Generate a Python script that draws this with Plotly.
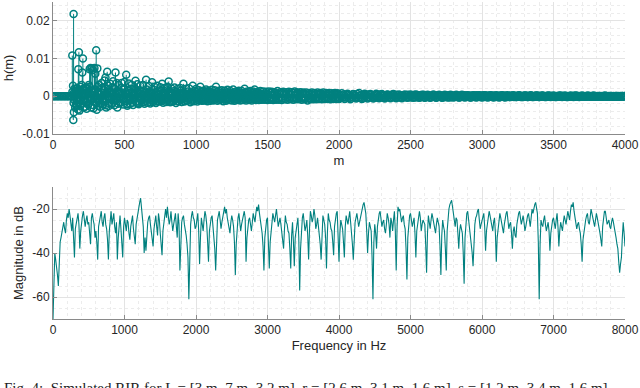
import numpy as np
import plotly.graph_objects as go
from plotly.subplots import make_subplots

teal = "#00807f"

# ---- impulse response h(m): strongest samples ----
m_early = [0, 10, 20, 30, 40, 50, 60, 70, 80, 90, 100, 110, 120, 130,
           135, 140, 142, 144, 146, 150, 155, 160, 165, 170, 175, 177, 181, 185,
           190, 195, 200, 205, 209, 213, 220, 225, 230, 235, 240, 245, 250, 256,
           262, 268, 272, 278, 284, 290, 296, 302, 306, 310, 315, 320, 330, 340,
           350, 360, 367, 372, 379, 385, 390, 400, 410, 420, 430, 437, 445, 450,
           460, 470, 480, 490, 500, 512, 520, 530, 540, 550, 560, 577, 585, 590,
           600, 610, 620, 630, 640, 651, 660, 670, 680, 693, 700, 710, 720, 730,
           740, 750, 763, 770, 780, 790, 800, 809, 820, 830, 840, 850, 860, 870,
           880, 890, 900, 912, 920, 930, 940, 950, 960, 977, 985, 1000]
h_early = [0, 0, 0, 0, 0, 0, 0, 0, 0, 0, 0, 0, 0, 0,
           0.0108, 0.0028, -0.0063, 0.0218, -0.0042, 0.0020, -0.0030, 0.0015, -0.0025, 0.0022, -0.0035, 0.0072, 0.0117, -0.0038,
           0.0025, -0.0020, 0.0030, 0.0063, 0.0100, -0.0030, 0.0018, -0.0028, 0.0024, -0.0033, 0.0020, -0.0022, 0.0030, 0.0072,
           0.0075, -0.0030, 0.0074, 0.0070, -0.0032, 0.0075, 0.0060, 0.0122, -0.0036, 0.0074, -0.0025, 0.0030, -0.0028, 0.0035,
           -0.0022, 0.0042, 0.0050, -0.0030, 0.0065, 0.0028, -0.0026, 0.0033, -0.0020, 0.0040, -0.0024, 0.0063, 0.0035, -0.0030,
           0.0030, -0.0018, 0.0035, -0.0022, 0.0038, 0.0057, -0.0025, 0.0034, -0.0020, 0.0030, -0.0023, 0.0041, -0.0018, 0.0032,
           -0.0021, 0.0028, -0.0016, 0.0030, -0.0020, 0.0044, -0.0017, 0.0027, -0.0019, 0.0037, -0.0015, 0.0025, -0.0018, 0.0028,
           -0.0014, 0.0024, 0.0033, -0.0017, 0.0022, -0.0015, 0.0025, 0.0039, -0.0016, 0.0020, -0.0014, 0.0023, -0.0018, 0.0019,
           -0.0013, 0.0022, -0.0015, 0.0033, -0.0014, 0.0020, -0.0012, 0.0021, -0.0016, 0.0028, -0.0013, 0.0019]

m_mid = list(range(1010, 2000, 10))
h_mid = [-0.0014, 0.0016, 0.0025, -0.0012, 0.0015, -0.0011, 0.0018, -0.0013, 0.0014, -0.0012,
         0.0017, -0.0011, 0.0016, 0.0025, -0.0012, 0.0015, -0.0010, 0.0016, -0.0013, 0.0015,
         -0.0012, 0.0017, -0.0010, 0.0014, -0.0011, 0.0018, -0.0012, 0.0013, -0.0010, 0.0015,
         -0.0011, 0.0014, -0.0010, 0.0020, -0.0011, 0.0013, -0.0010, 0.0014, -0.0011, 0.0013,
         0.0018, -0.0010, 0.0012, -0.0010, 0.0014, -0.0009, 0.0013, -0.0009, 0.0012, -0.0010,
         0.0013, -0.0009, 0.0012, -0.0010, 0.0011, -0.0009, 0.0014, -0.0009, 0.0011, -0.0010,
         0.0012, -0.0008, 0.0011, -0.0009, 0.0012, -0.0008, 0.0011, -0.0009, 0.0013, -0.0008,
         0.0010, -0.0008, 0.0011, -0.0009, 0.0010, -0.0008, 0.0010, -0.0011, 0.0009, -0.0008,
         0.0010, -0.0008, 0.0009, -0.0008, 0.0010, -0.0007, 0.0009, -0.0008, 0.0010, -0.0007,
         0.0009, -0.0007, 0.0009, -0.0008, 0.0008, -0.0007, 0.0009, -0.0007, 0.0008]

m_late = list(range(2000, 4001, 20))
h_late = [-0.0007, 0.0008, -0.0007, 0.0007, -0.0008, 0.0006, -0.0006, 0.0009, -0.0007, 0.0007, -0.0006,
          0.0006, -0.0006, 0.0007, -0.0005, 0.0006, -0.0006, 0.0005, -0.0005, 0.0006, -0.0005,
          0.0005, -0.0005, 0.0005, -0.0004, 0.0005, -0.0004, 0.0005, -0.0004, 0.0004, -0.0004,
          0.0004, -0.0004, 0.0005, -0.0004, 0.0004, -0.0004, 0.0004, -0.0003, 0.0004, -0.0003,
          0.0004, -0.0003, 0.0004, -0.0003, 0.0003, -0.0003, 0.0003, -0.0003, 0.0003, -0.0003,
          0.0003, -0.0003, 0.0003, -0.0003, 0.0003, -0.0003, 0.0003, -0.0003, 0.0003, -0.0002,
          0.0003, -0.0002, 0.0003, -0.0002, 0.0002, -0.0002, 0.0003, -0.0002, 0.0002, -0.0002,
          0.0002, -0.0002, 0.0002, -0.0002, 0.0002, -0.0002, 0.0002, -0.0002, 0.0002, -0.0002,
          0.0002, -0.0002, 0.0002, -0.0002, 0.0002, -0.0001, 0.0002, -0.0001, 0.0002, -0.0001,
          0.0001, -0.0001, 0.0002, -0.0001, 0.0001, -0.0001, 0.0001, -0.0001, 0.0001, 0.0001]

# ---- low-level tail samples, every 8 taps from m = 136, in units of 1e-4 ----
h_tail_e4 = [
    12, -18, 5, -22, 20, -8, 15, -25, 3, 18, -12, 22, -15, 8, -20, 25, -5, 14, -23, 10,
    18, -15, 25, -10, 5, -20, 22, -12, 16, -24, 8, 20, -18, 12, -6, 24, -14, 19, -9, 15,
    -20, 12, -16, 22, -8, 18, -13, 6, -21, 15, -10, 20, -17, 9, -4, 19, -14, 11, -18, 16,
    -9, 14, -16, 8, -12, 18, -6, 13, -15, 10, -11, 17, -7, 12, -14, 5, -10, 15, -13, 9,
    -8, 13, -11, 16, -6, 12, -14, 9, -10, 14, -5, 11, -13, 8, -9, 15, -7, 10, -12, 6,
    -11, 13, -6, 10, -12, 8, -9, 14, -5, 11, -10, 7, -8, 12, -11, 6, -9, 13, -7, 10,
    -8, 11, -6, 9, -10, 7, -5, 12, -9, 8, -7, 10, -4, 9, -8, 11, -6, 7, -9, 8,
    -5, 10, -8, 6, -7, 9, -4, 8, -9, 7, -6, 10, -5, 8, -7, 6, -8, 9, -4, 7,
    -7, 8, -5, 9, -6, 7, -8, 5, -4, 8, -7, 6, -5, 9, -6, 4, -7, 8, -5, 6,
    -6, 7, -4, 8, -5, 6, -7, 5, -3, 7, -6, 5, -4, 8, -5, 4, -6, 7, -3, 5,
    -5, 6, -4, 7, -3, 5, -6, 4, -5, 6, -4, 3, -5, 6, -3, 5, -4, 6, -5, 4,
    -4, 5, -3, 6, -4, 3, -5, 4, -3, 5, -4, 6, -2, 4, -5, 3, -4, 5, -3, 4,
    -3, 4, -5, 3, -2, 5, -4, 3, -3, 6, -4, 2, -3, 4, -5, 3, -2, 4, -3, 5,
    -3, 4, -2, 3, -4, 3, -3, 4, -2, 5, -3, 2, -4, 3, -3, 4, -2, 3, -3, 4,
    -2, 3, -3, 4, -2, 3, -3, 2, -4, 3, -2, 3, -3, 4, -2, 2, -3, 3, -2, 4,
    -3, 2, -2, 3, -3, 2, -2, 4, -3, 2, -2, 3, -3, 2, -2, 3, -2, 3, -3, 2,
    -2, 3, -2, 2, -3, 2, -2, 3, -2, 2, -3, 3, -2, 2, -2, 3, -2, 2, -3, 2,
    -2, 2, -2, 3, -2, 2, -2, 2, -3, 2, -2, 2, -2, 3, -2, 2, -2, 2, -2, 3,
    -2, 2, -2, 2, -2, 2, -1, 2, -2, 2, -2, 1, -2, 2, -2, 2, -1, 2, -2, 2,
    -2, 1, -2, 2, -1, 2, -2, 1, -2, 2, -1, 2, -2, 1, -2, 2, -1, 2, -2, 1,
    -1, 2, -2, 1, -1, 2, -1, 2, -2, 1, -1, 2, -1, 1, -2, 1, -1, 2, -1, 1,
    -1, 1, -2, 1, -1, 1, -1, 2, -1, 1, -1, 1, -2, 1, -1, 1, -1, 1, -1, 2,
    -1, 1, -1, 1, -1, 1, -1, 1, -1, 1, -1, 1, -1, 1, -1, 1, -1, 1, -1, 1,
    -1, 1, -1, 1, -1, 1, -1, 1, -1, 1, -1, 1, -1, 1, -1, 1, -1, 1, -1, 1,
    -1, 1, -1, 1]
m_tail = list(range(136, 136 + 8 * len(h_tail_e4), 8))

# ---- weaker samples in between, every 8 taps from m = 140, in units of 1e-4 ----
h_fill_e4 = [
    6, -9, 3, -11, 8, -4, 10, -7, 2, 9, -12, 5, -8, 11, -3, 7, -10, 4, -6, 12,
    -5, 8, -11, 6, -3, 10, -8, 4, -9, 7, -2, 11, -6, 9, -4, 8, -10, 5, -7, 9,
    -6, 9, -4, 10, -7, 3, -8, 6, -5, 9, -3, 7, -9, 5, -6, 8, -4, 10, -5, 7,
    -7, 5, -3, 8, -6, 4, -8, 7, -2, 6, -7, 5, -4, 8, -5, 3, -6, 7, -4, 6,
    -5, 7, -3, 6, -6, 4, -5, 8, -2, 5, -6, 4, -4, 7, -5, 3, -6, 5, -3, 6,
    -4, 6, -5, 3, -6, 5, -2, 6, -4, 5, -3, 4, -5, 6, -3, 4, -4, 5, -2, 5,
    -4, 3, -5, 4, -3, 5, -2, 4, -4, 3, -3, 5, -2, 4, -4, 3, -3, 4, -2, 4,
    -3, 4, -2, 3, -4, 3, -2, 4, -3, 2, -3, 4, -2, 3, -3, 2, -3, 3, -2, 3,
    -3, 2, -2, 3, -2, 2, -3, 2, -2, 3, -2]
m_fill = list(range(140, 140 + 8 * len(h_fill_e4), 8))

m_vals = m_early + m_tail + m_fill + m_mid + m_late
h_vals = (h_early + [v * 1e-4 for v in h_tail_e4] + [v * 1e-4 for v in h_fill_e4]
          + h_mid + h_late)

# ---- magnitude response in dB, 0 ... 8000 Hz (12.5 Hz spacing, 40 values per 500 Hz) ----
mag_db = [
    -70, -52, -40, -43, -46, -50, -55, -44, -35, -33, -30, -28, -26, -29, -31, -25, -22, -24, -20, -23,
    -27, -30, -24, -33, -42, -29, -26, -23, -22, -27, -38, -30, -25, -23, -21, -26, -28, -25, -23, -27,
    -26, -31, -36, -24, -22, -25, -27, -33, -30, -35, -43, -28, -25, -22, -21, -26, -28, -24, -22, -27,
    -29, -34, -43, -30, -24, -21, -27, -25, -22, -28, -31, -26, -43, -33, -26, -23, -29, -35, -42, -28,
    -24, -27, -30, -25, -26, -31, -34, -28, -25, -23, -29, -33, -36, -27, -24, -21, -18, -17, -15, -19,
    -22, -28, -40, -33, -39, -30, -26, -24, -23, -27, -30, -35, -37, -29, -25, -23, -28, -32, -22, -25,
    -31, -36, -41, -30, -26, -22, -20, -24, -19, -23, -27, -25, -21, -26, -30, -27, -24, -22, -28, -33,
    -22, -27, -48, -34, -26, -24, -23, -27, -29, -32, -36, -42, -61, -38, -27, -23, -21, -24, -25, -29,
    -28, -25, -22, -30, -45, -33, -24, -27, -30, -25, -21, -23, -27, -35, -44, -30, -26, -24, -23, -28,
    -32, -38, -48, -34, -25, -23, -21, -25, -29, -26, -24, -21, -19, -22, -20, -24, -27, -29, -31, -26,
    -23, -25, -28, -35, -50, -36, -26, -24, -22, -26, -30, -27, -25, -23, -21, -24, -44, -33, -27, -25,
    -24, -28, -30, -26, -22, -24, -26, -22, -19, -21, -18, -22, -25, -28, -31, -37, -48, -33, -27, -25,
    -24, -33, -47, -35, -29, -25, -22, -24, -26, -23, -20, -24, -28, -26, -24, -27, -30, -34, -38, -29,
    -23, -26, -27, -30, -31, -38, -47, -32, -26, -35, -46, -33, -29, -26, -24, -33, -57, -38, -27, -24,
    -22, -26, -30, -28, -25, -32, -43, -29, -21, -23, -26, -24, -20, -23, -29, -27, -24, -28, -31, -36,
    -43, -30, -23, -25, -27, -33, -47, -31, -22, -25, -26, -29, -30, -35, -41, -28, -24, -22, -21, -30,
    -44, -31, -25, -27, -29, -35, -42, -28, -23, -25, -27, -24, -21, -26, -30, -36, -43, -30, -26, -24,
    -22, -25, -28, -26, -24, -21, -19, -18, -17, -20, -22, -30, -40, -31, -26, -28, -30, -42, -61, -35,
    -27, -31, -38, -28, -24, -22, -21, -25, -28, -26, -25, -29, -31, -27, -22, -24, -27, -33, -24, -26,
    -30, -25, -21, -30, -48, -28, -19, -21, -20, -23, -26, -24, -23, -27, -29, -38, -52, -33, -25, -23,
    -22, -25, -28, -26, -24, -31, -42, -30, -26, -23, -21, -24, -30, -27, -25, -26, -27, -36, -49, -31,
    -23, -26, -29, -25, -22, -24, -26, -29, -31, -27, -24, -26, -28, -37, -50, -32, -25, -28, -30, -38,
    -48, -30, -22, -20, -18, -17, -16, -19, -23, -26, -28, -24, -25, -31, -38, -30, -27, -29, -31, -40,
    -54, -33, -24, -22, -21, -25, -28, -31, -34, -40, -46, -33, -27, -24, -23, -21, -20, -25, -29, -27,
    -25, -23, -22, -28, -39, -30, -27, -24, -21, -23, -26, -28, -30, -26, -24, -31, -44, -33, -28, -25,
    -22, -24, -26, -29, -31, -27, -24, -22, -21, -25, -29, -27, -26, -31, -38, -30, -28, -32, -33, -27,
    -24, -22, -21, -24, -27, -25, -23, -26, -30, -28, -25, -23, -22, -26, -28, -24, -20, -22, -19, -18,
    -17, -20, -22, -35, -61, -36, -25, -27, -28, -25, -23, -27, -30, -28, -26, -30, -39, -31, -27, -25,
    -24, -27, -29, -25, -22, -28, -37, -30, -26, -28, -30, -26, -23, -25, -27, -24, -21, -23, -25, -21,
    -18, -19, -17, -21, -24, -27, -29, -27, -26, -29, -31, -36, -44, -34, -30, -27, -25, -23, -22, -26,
    -27, -24, -20, -22, -24, -26, -28, -25, -22, -24, -26, -29, -31, -34, -37, -28, -23, -21, -21, -24,
    -27, -26, -25, -28, -29, -26, -24, -26, -28, -31, -33, -36, -38, -44, -49, -45, -42, -33, -26, -31,
    -37]
freq = np.linspace(0, 8000, len(mag_db))

# stems built from the sample values
stem_x, stem_y = [], []
for m, h in zip(m_vals, h_vals):
    stem_x += [m, m, None]
    stem_y += [0, h, None]

fig = make_subplots(rows=2, cols=1)

fig.add_trace(go.Scatter(x=[0, 4000], y=[0, 0], mode="lines",
                         line=dict(color=teal, width=1), showlegend=False), row=1, col=1)
fig.add_trace(go.Scatter(x=stem_x, y=stem_y, mode="lines",
                         line=dict(color=teal, width=1), showlegend=False), row=1, col=1)
fig.add_trace(go.Scatter(x=m_vals, y=h_vals, mode="markers",
                         marker=dict(symbol="circle-open", size=7, color=teal,
                                     line=dict(width=1.5, color=teal)),
                         showlegend=False), row=1, col=1)

fig.add_trace(go.Scatter(x=freq, y=mag_db, mode="lines",
                         line=dict(color=teal, width=1.1), showlegend=False), row=2, col=1)

axis_style = dict(showgrid=True, gridcolor="#e3e3e3", gridwidth=1,
                  showline=True, linecolor="#8a8a8a", linewidth=1,
                  ticks="inside", ticklen=4, tickcolor="#8a8a8a",
                  tickfont=dict(family="Liberation Sans", size=12, color="#262626"),
                  zeroline=False, mirror=False, automargin=False,
                  title_font=dict(family="Liberation Sans", size=13, color="#262626"))
minor_style = dict(showgrid=True, gridcolor="#ececec", griddash="dot", gridwidth=1)

fig.update_xaxes(**axis_style)
fig.update_yaxes(**axis_style)

fig.update_xaxes(range=[0, 4000], dtick=500, minor=dict(dtick=100, **minor_style),
                 title_text="m", title_standoff=4, domain=[0, 1], row=1, col=1)
fig.update_yaxes(range=[-0.01, 0.025], tickvals=[-0.01, 0, 0.01, 0.02],
                 ticktext=["-0.01", "0", "0.01", "0.02"],
                 minor=dict(dtick=0.002, **minor_style),
                 title_text="h(m)", title_standoff=5,
                 domain=[1 - 134 / 388, 1 - 2 / 388], row=1, col=1)

fig.update_xaxes(range=[0, 8000], dtick=1000, minor=dict(dtick=200, **minor_style),
                 title_text="Frequency in Hz", title_standoff=4, domain=[0, 1], row=2, col=1)
fig.update_yaxes(range=[-70, -10], tickvals=[-60, -40, -20], ticktext=["-60", "-40", "-20"],
                 minor=dict(dtick=5, **minor_style),
                 title_text="Magnitude in dB", title_standoff=5,
                 domain=[1 - 319 / 388, 1 - 187 / 388], row=2, col=1)

fig.add_annotation(text="Fig. 4:  Simulated RIR for L = [3 m, 7 m, 3.2 m], r = [2.6 m, 3.1 m, 1.6 m], s = [1.2 m, 3.4 m, 1.6 m]",
                   xref="paper", yref="paper", x=-51 / 572, y=10 / 388,
                   xanchor="left", yanchor="top", showarrow=False,
                   font=dict(family="Liberation Serif", size=15, color="#222222"))

fig.update_layout(width=640, height=388, margin=dict(l=53, r=15, t=0, b=0),
                  plot_bgcolor="white", paper_bgcolor="white")

# the page body has a default 8px margin; drop it so the figure fills the window
fig.write_html("out.html", config={"displayModeBar": False},
               post_script="document.body.style.margin='0';")
